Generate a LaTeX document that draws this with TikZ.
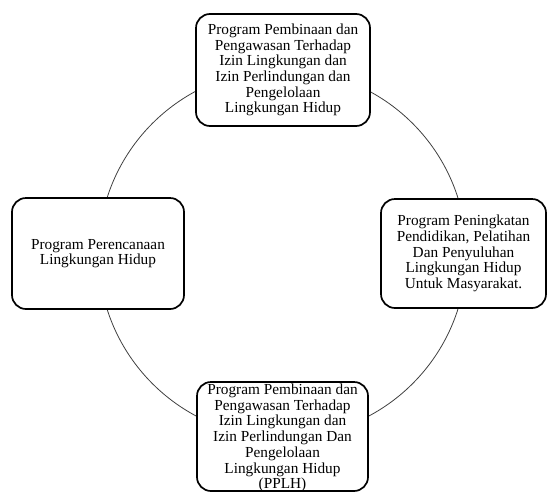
\documentclass[tikz,border=0pt]{standalone}
\usepackage{fontspec}
\setmainfont{Liberation Serif}
\begin{document}
\begin{tikzpicture}[x=1pt,y=-1pt,
  ring/.style={circle, draw=black!75, line width=0.8pt, minimum size=368pt, inner sep=0pt},
  progbox/.style={draw=black, line width=1.7pt, rounded corners=14pt, fill=white, inner sep=0pt, align=center,
    font=\fontsize{15.3}{15.7}\selectfont},
  progtext/.style={inner sep=0pt, align=center, font=\fontsize{15.3}{15.7}\selectfont}]
\useasboundingbox (0,0) rectangle (548,493);
\node[ring] (ring) at (282.5,253.5) {};
\node[progbox, minimum width=174pt, minimum height=112pt] (top) at (283,70)
  {Program Pembinaan dan\\Pengawasan Terhadap\\Izin Lingkungan dan\\Izin Perlindungan dan\\Pengelolaan\\Lingkungan Hidup};
\node[progbox, minimum width=172pt, minimum height=111pt] (left) at (98,253.5)
  {Program Perencanaan\\Lingkungan Hidup};
\node[progbox, minimum width=165pt, minimum height=109pt] (right) at (463.5,253.5)
  {Program Peningkatan\\Pendidikan, Pelatihan\\Dan Penyuluhan\\Lingkungan Hidup\\Untuk Masyarakat.};
\node[progbox, minimum width=171pt, minimum height=109pt] (bottom) at (282.5,436.5) {};
\node[progtext] (bottomtext) at (282.5,438)
  {Program Pembinaan dan\\Pengawasan Terhadap\\Izin Lingkungan dan\\Izin Perlindungan Dan\\Pengelolaan\\Lingkungan Hidup\\(PPLH)};
\end{tikzpicture}
\end{document}
